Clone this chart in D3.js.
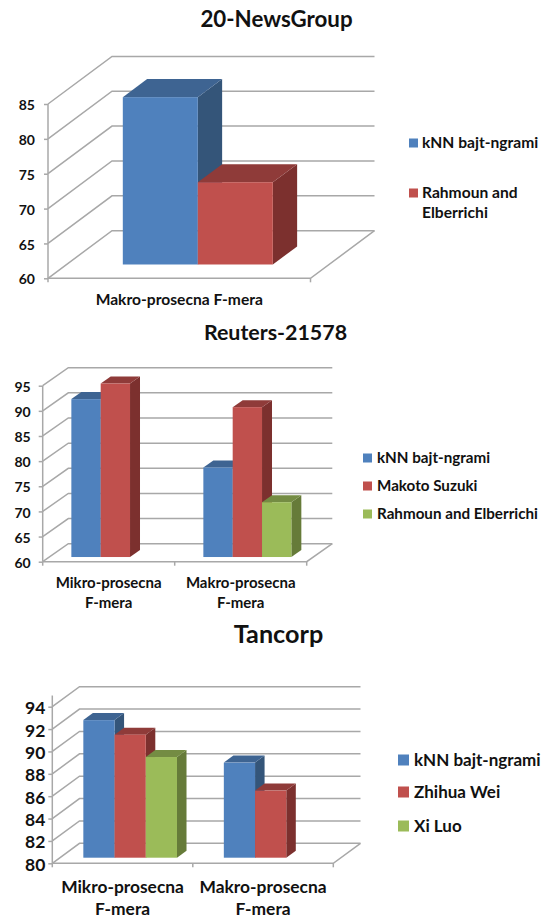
<!DOCTYPE html>
<html><head><meta charset="utf-8">
<script src="https://cdn.jsdelivr.net/npm/d3@7"></script>
<style>html,body{margin:0;padding:0;background:#fff}svg{display:block}text{font-family:Lato,sans-serif;font-weight:700;fill:#111}</style>
</head><body><svg id="c" width="541" height="918"></svg>
<script>
// --- data ---
const newsCategories = [["Makro-prosecna F-mera"]];
const newsSeries = ["kNN bajt-ngrami", "Rahmoun and Elberrichi"];
const newsKnn = [84];
const newsRahmoun = [71.8];
const newsTicks = [60, 65, 70, 75, 80, 85];

const reutersCategories = [["Mikro-prosecna", "F-mera"], ["Makro-prosecna", "F-mera"]];
const reutersSeries = ["kNN bajt-ngrami", "Makoto Suzuki", "Rahmoun and Elberrichi"];
const reutersKnn = [91.4, 77.8];
const reutersSuzuki = [94.5, 89.8];
const reutersRahmoun = [null, 70.9];
const reutersTicks = [60, 65, 70, 75, 80, 85, 90, 95];

const tancorpCategories = [["Mikro-prosecna", "F-mera"], ["Makro-prosecna", "F-mera"]];
const tancorpSeries = ["kNN bajt-ngrami", "Zhihua Wei", "Xi Luo"];
const tancorpKnn = [92.3, 88.5];
const tancorpWei = [91, 86];
const tancorpLuo = [89, null];
const tancorpTicks = [80, 82, 84, 86, 88, 90, 92, 94];

const palette = [
  {front:"#4f81bd", top:"#3e6492", side:"#345579"},
  {front:"#c0504d", top:"#8f3b39", side:"#7c302e"},
  {front:"#9bbb59", top:"#748c43", side:"#667b39"}
];

const charts = [
 {title:"20-NewsGroup", titleX:276.5, titleY:27, titleSize:22.3,
  cats:newsCategories, names:newsSeries, vals:[newsKnn,newsRahmoun], ticks:newsTicks,
  xr:[48,310.5], yr:[278.3,104], axisTop:85, dx:64, dy:47.6, d0:.29, d1:.67,
  labelSize:15.6, labelY:[305], tickSize:14, tickPad:9,
  legX:409, legS:9, legTextX:422, legSize:15.6,
  leg:[{y:143,lines:["kNN bajt-ngrami"]},{y:193,lines:["Rahmoun and","Elberrichi"],lh:20}]},
 {title:"Reuters-21578", titleX:275.5, titleY:340, titleSize:21.4,
  cats:reutersCategories, names:reutersSeries, vals:[reutersKnn,reutersSuzuki,reutersRahmoun], ticks:reutersTicks,
  xr:[42.7,306.7], yr:[561.7,385.7], axisTop:95, dx:25.6, dy:18, d0:.26, d1:.65,
  labelSize:15, labelY:[588,608], tickSize:14, tickPad:8,
  legX:363, legS:9, legTextX:377, legSize:15.2,
  leg:[{y:458,lines:[reutersSeries[0]]},{y:486,lines:[reutersSeries[1]]},{y:514,lines:[reutersSeries[2]]}]},
 {title:"Tancorp", titleX:278.5, titleY:643, titleSize:25.2,
  cats:tancorpCategories, names:tancorpSeries, vals:[tancorpKnn,tancorpWei,tancorpLuo], ticks:tancorpTicks,
  xr:[52.3,333.3], yr:[863.3,706.7], axisTop:95, dx:27.2, dy:20, d0:.28, d1:.63,
  labelSize:17.4, labelY:[893,915], tickSize:17.5, tickPad:3,
  legX:398, legS:11, legTextX:414, legSize:17,
  leg:[{y:760,lines:[tancorpSeries[0]]},{y:792,lines:[tancorpSeries[1]]},{y:826,lines:[tancorpSeries[2]]}]}
];

const svg = d3.select("#c");
const gridColor = "#a8a8a8";

charts.forEach(c => {
  const g = svg.append("g");
  g.append("text").attr("x",c.titleX).attr("y",c.titleY).attr("text-anchor","middle")
    .attr("font-size",c.titleSize).text(c.title);

  const y = d3.scaleLinear().domain([c.ticks[0], c.ticks[c.ticks.length-1]]).range(c.yr);
  const x0 = d3.scaleBand().domain(d3.range(c.cats.length)).range(c.xr);
  const x1 = d3.scaleBand().domain(c.names).range([0,x0.bandwidth()]).paddingInner(0).paddingOuter(.75);
  const [xa,xb] = c.xr;
  const base = y.domain()[0];

  // walls and floor
  const grid = g.append("g").attr("fill","none").attr("stroke",gridColor).attr("stroke-width",1.5);
  c.ticks.forEach(t=>{
    grid.append("path").attr("d",d3.line()([[xa,y(t)],[xa+c.dx,y(t)-c.dy],[xb+c.dx,y(t)-c.dy]]));
  });
  grid.append("path").attr("d",d3.line()([[xa,y(base)],[xb,y(base)],[xb+c.dx,y(base)-c.dy]]));

  // y axis with the library's axis generator
  const yAxis = d3.axisLeft(y).tickValues(c.ticks).tickSize(4).tickSizeOuter(0).tickPadding(c.tickPad);
  const ya = g.append("g").attr("transform",`translate(${xa},0)`).call(yAxis);
  ya.select(".domain").remove();
  ya.selectAll("line").attr("stroke",gridColor).attr("stroke-width",1.5);
  ya.selectAll("text").attr("font-size",c.tickSize).attr("font-family","Lato,sans-serif").attr("fill","#111").attr("dy","0.4em");
  g.append("line").attr("x1",xa).attr("x2",xa).attr("y1",y(base)).attr("y2",y(c.axisTop))
    .attr("stroke",gridColor).attr("stroke-width",1.5);

  // category ticks
  d3.range(c.cats.length+1).forEach(i=>{
    const px = xa + i*x0.step();
    g.append("line").attr("x1",px).attr("x2",px).attr("y1",y(base)).attr("y2",y(base)+4)
      .attr("stroke",gridColor).attr("stroke-width",1.5);
  });

  // bars
  c.cats.forEach((cat,i)=>{
    c.names.forEach((name,s)=>{
      const v = c.vals[s][i];
      if(v==null) return;
      const shift = c.d0*c.dx, lift = c.d0*c.dy;
      const l = x0(i)+x1(name)+shift, r = l+x1.bandwidth();
      const bot = y(base)-lift, top = y(v)-lift;
      const ddx = (c.d1-c.d0)*c.dx, ddy = (c.d1-c.d0)*c.dy;
      const col = palette[s];
      const b = g.append("g");
      b.append("path").attr("fill",col.side).attr("d",d3.line()([[r,top],[r+ddx,top-ddy],[r+ddx,bot-ddy],[r,bot]])+"Z");
      b.append("path").attr("fill",col.top).attr("d",d3.line()([[l,top],[l+ddx,top-ddy],[r+ddx,top-ddy],[r,top]])+"Z");
      b.append("rect").attr("x",l).attr("y",top).attr("width",r-l).attr("height",bot-top).attr("fill",col.front);
    });
  });

  // category labels
  c.cats.forEach((cat,i)=>{
    cat.forEach((line,k)=>{
      g.append("text").attr("x",x0(i)+x0.bandwidth()/2).attr("y",c.labelY[k])
        .attr("text-anchor","middle").attr("font-size",c.labelSize).text(line);
    });
  });

  // legend
  c.leg.forEach((e,s)=>{
    g.append("rect").attr("x",c.legX).attr("y",e.y-c.legS/2).attr("width",c.legS).attr("height",c.legS)
      .attr("fill",palette[s].front);
    e.lines.forEach((line,k)=>{
      g.append("text").attr("x",c.legTextX).attr("y",e.y+k*(e.lh||0)).attr("dy","0.35em")
        .attr("font-size",c.legSize).text(line);
    });
  });
});
</script></body></html>
